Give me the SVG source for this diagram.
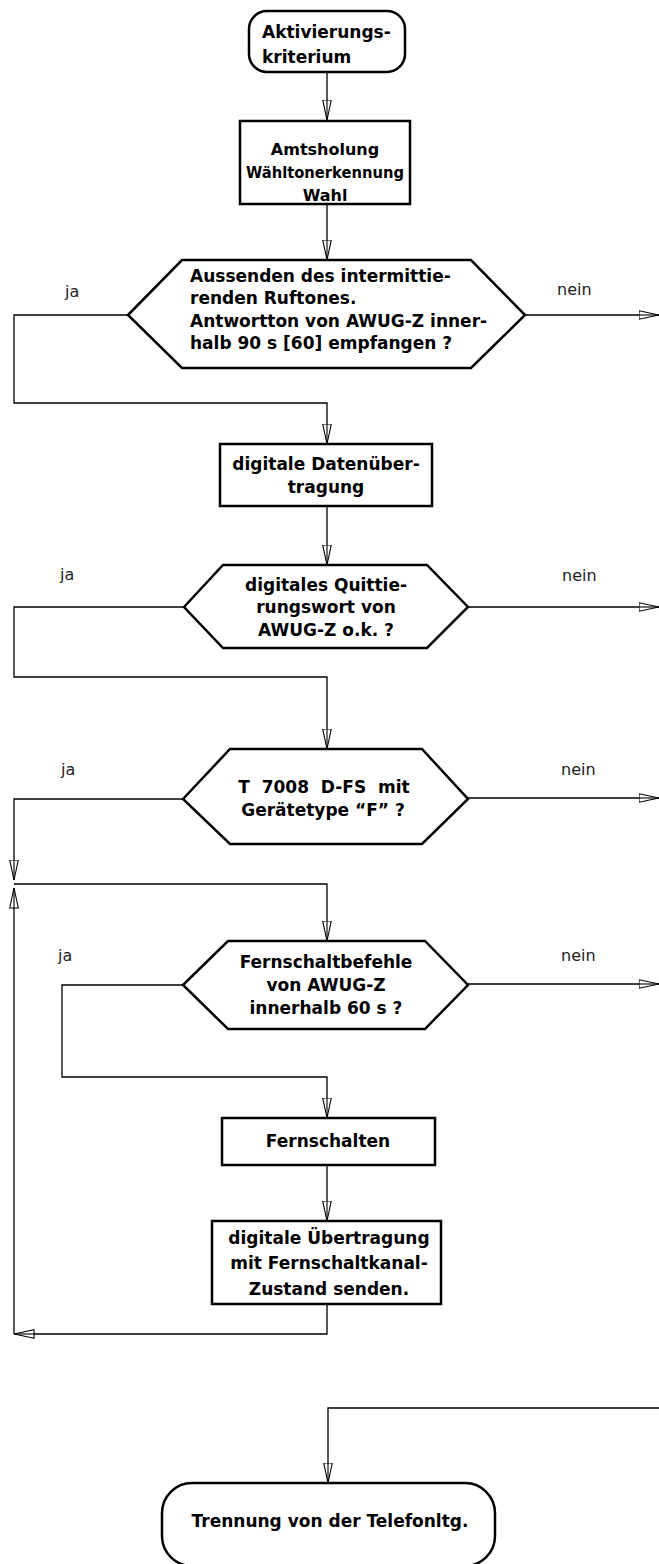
<svg xmlns="http://www.w3.org/2000/svg" width="659" height="1564" viewBox="0 0 659 1564">
<style>
.n{fill:#fff;stroke:#000;stroke-width:2.5;stroke-linejoin:miter}
.c{fill:none;stroke:#000;stroke-width:1.3;marker-end:url(#a)}
.t{font-family:"DejaVu Sans",sans-serif;font-weight:bold;font-size:17px;fill:#000}
.s{font-size:16px}
.m{text-anchor:middle}
.l{font-family:"DejaVu Sans",sans-serif;font-size:16px;fill:#222}
</style>
<defs>
<marker id="a" viewBox="0 0 21 10" refX="20.5" refY="5" markerWidth="21" markerHeight="10" orient="auto" markerUnits="userSpaceOnUse">
<path d="M0.5,0.7 L20.5,5 L0.5,9.3 Z" fill="#fff" stroke="#000" stroke-width="1.1"/>
<path d="M0,5 H20" stroke="#000" stroke-width="1.1"/>
</marker>
</defs>
<g id="connectors">
<path class="c" d="M327,72 V120"/>
<path class="c" d="M327,204 V260"/>
<path class="c" d="M128,315 H14 V403 H327 V444"/>
<path class="c" d="M525,315 H659"/>
<path class="c" d="M327,506 V565"/>
<path class="c" d="M184,607 H14 V677 H327 V749"/>
<path class="c" d="M468,607 H659"/>
<path class="c" d="M183,799 H14 V880"/>
<path class="c" d="M468,798 H659"/>
<path class="c" d="M14,884 H327 V941"/>
<path class="c" d="M183,985 H62 V1077 H327 V1118"/>
<path class="c" d="M468,984 H659"/>
<path class="c" d="M327,1165 V1221"/>
<path class="c" d="M327,1304 V1334 H14"/>
<path class="c" d="M14,1334 V888"/>
<path class="c" d="M659,1408 H328 V1483"/>
</g>
<g id="start">
<rect class="n" x="249" y="11" width="156" height="61" rx="18"/>
<text class="t" x="262" y="38">Aktivierungs-</text>
<text class="t" x="262" y="63">kriterium</text>
</g>
<g id="amtsholung">
<rect class="n" x="240" y="121" width="170" height="83"/>
<text class="t s m" x="325" y="155">Amtsholung</text>
<text class="t s m" x="325" y="178" textLength="158" lengthAdjust="spacingAndGlyphs">Wähltonerkennung</text>
<text class="t s m" x="325" y="201">Wahl</text>
</g>
<g id="ruftone">
<polygon class="n" points="128,315 182,260 471,260 525,315 471,368 182,368"/>
<text class="t" x="190" y="282">Aussenden des intermittie-</text>
<text class="t" x="190" y="304">renden Ruftones.</text>
<text class="t" x="190" y="327">Antwortton von AWUG-Z inner-</text>
<text class="t" x="190" y="349">halb 90 s [60] empfangen ?</text>
<text class="l" x="65" y="297">ja</text>
<text class="l" x="557" y="295">nein</text>
</g>
<g id="daten">
<rect class="n" x="220" y="444" width="212" height="62"/>
<text class="t m" x="326" y="470">digitale Datenüber-</text>
<text class="t m" x="326" y="493">tragung</text>
</g>
<g id="quittung">
<polygon class="n" points="184,607 223,565 427,565 468,607 427,648 223,648"/>
<text class="t m" x="326" y="591">digitales Quittie-</text>
<text class="t m" x="326" y="613">rungswort von</text>
<text class="t m" x="326" y="636">AWUG-Z o.k. ?</text>
<text class="l" x="60" y="580">ja</text>
<text class="l" x="562" y="581">nein</text>
</g>
<g id="geraetetyp">
<polygon class="n" points="183,799 230,749 422,749 468,799 422,844 230,844"/>
<text class="t m" x="324" y="793" xml:space="preserve">T  7008  D-FS  mit</text>
<text class="t m" x="323" y="816">Gerätetype “F” ?</text>
<text class="l" x="61" y="775">ja</text>
<text class="l" x="561" y="775">nein</text>
</g>
<g id="fernschaltbefehle">
<polygon class="n" points="183,985 228,941 425,941 468,985 425,1029 228,1029"/>
<text class="t m" x="326" y="968">Fernschaltbefehle</text>
<text class="t m" x="326" y="991">von AWUG-Z</text>
<text class="t m" x="326" y="1014">innerhalb 60 s ?</text>
<text class="l" x="58" y="961">ja</text>
<text class="l" x="561" y="961">nein</text>
</g>
<g id="fernschalten">
<rect class="n" x="222" y="1118" width="213" height="47"/>
<text class="t m" x="328" y="1147">Fernschalten</text>
</g>
<g id="uebertragung">
<rect class="n" x="212" y="1221" width="229" height="83"/>
<text class="t m" x="329" y="1244">digitale Übertragung</text>
<text class="t m" x="329" y="1269">mit Fernschaltkanal-</text>
<text class="t m" x="329" y="1295">Zustand senden.</text>
</g>
<g id="trennung">
<rect class="n" x="162" y="1483" width="333" height="83" rx="30"/>
<text class="t m" x="330" y="1527">Trennung von der Telefonltg.</text>
</g>
</svg>
